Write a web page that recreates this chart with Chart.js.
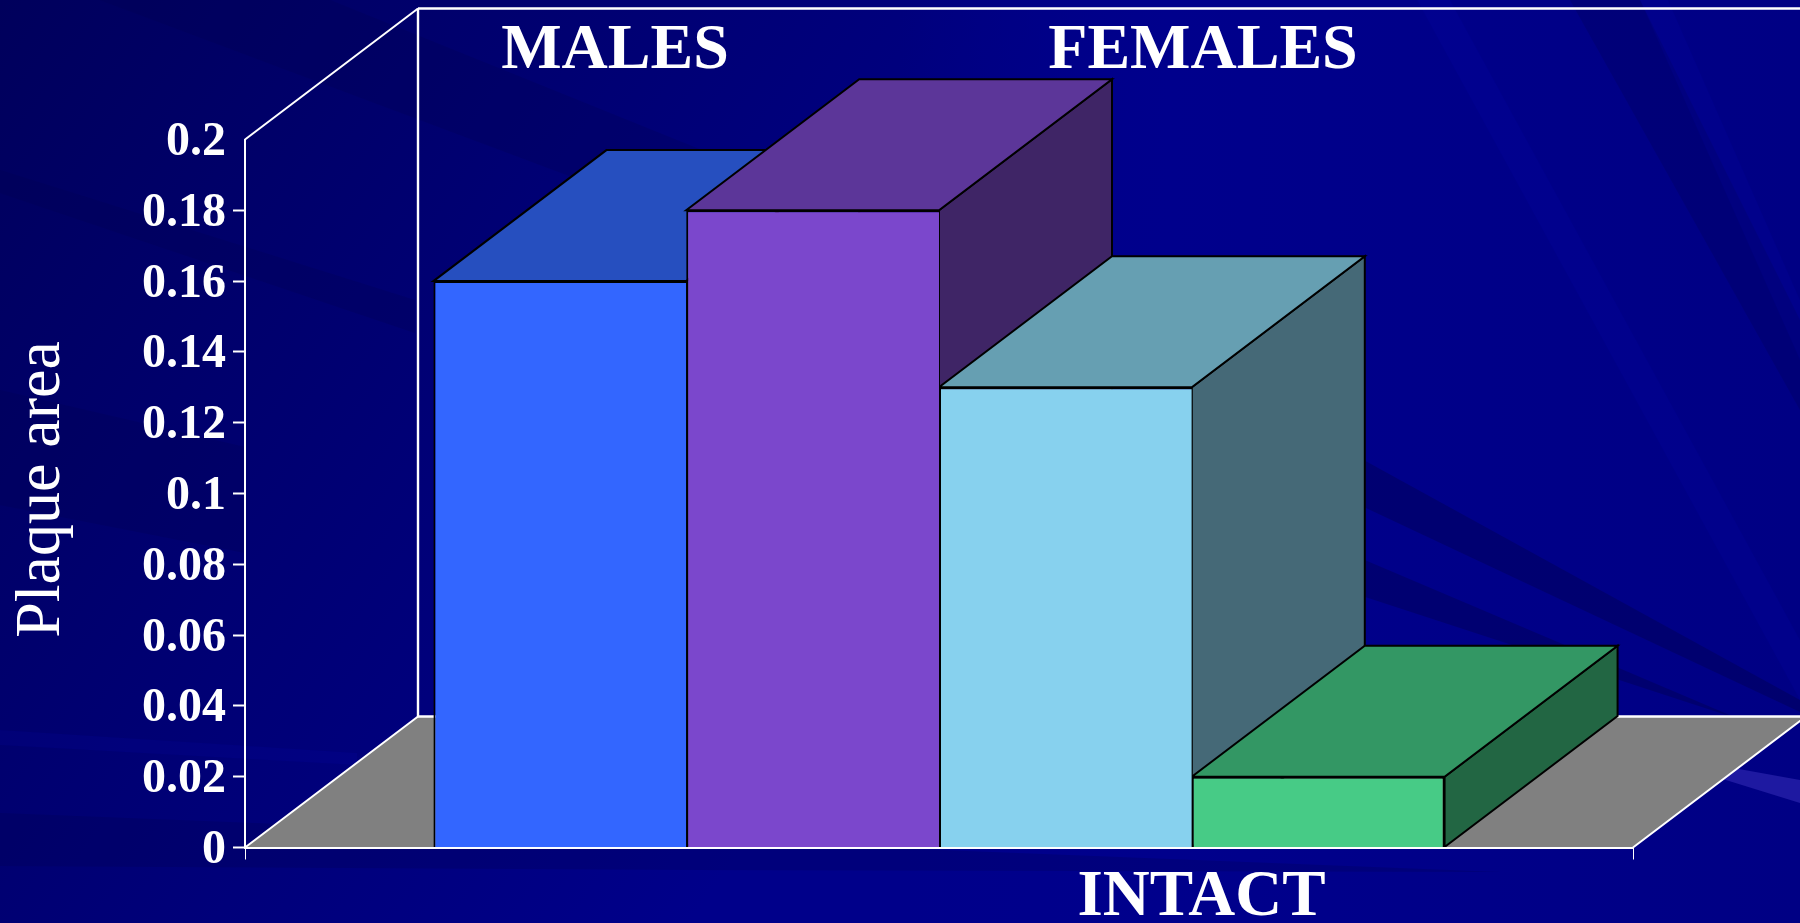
<!DOCTYPE html>
<html>
<head>
<meta charset="utf-8">
<style>
  html, body { margin: 0; padding: 0; background: #000088; overflow: hidden; }
  #wrap { position: relative; width: 1800px; height: 923px; }
</style>
<script src="https://cdn.jsdelivr.net/npm/chart.js@4"></script>
</head>
<body>
<div id="wrap"><canvas id="plaque" width="1800" height="923"></canvas></div>
<script>
const categories = ['INTACT'];
const seriesNames = ['Males A', 'Males B', 'Females A', 'Females B'];
const plaqueArea = [0.16, 0.18, 0.13, 0.02];
const frontColors = ['#3366ff', '#7b47cc', '#87d1ee', '#47cb86'];
const topColors = ['#264fbf', '#5c3699', '#669fb2', '#339764'];
const sideColors = ['#1a3380', '#3f2566', '#456977', '#226643'];
const groupLabels = ['MALES', 'FEMALES'];
const axisTitle = 'Plaque area';

const SERIF = '"Liberation Serif", "Times New Roman", serif';
const DEPTH_X = 173;
const DEPTH_Y = 131;

function polygon(ctx, pts, fill, stroke, lineWidth) {
  ctx.beginPath();
  pts.forEach((p, i) => i ? ctx.lineTo(p[0], p[1]) : ctx.moveTo(p[0], p[1]));
  ctx.closePath();
  if (fill) { ctx.fillStyle = fill; ctx.fill(); }
  if (stroke) { ctx.strokeStyle = stroke; ctx.lineWidth = lineWidth; ctx.lineJoin = 'miter'; ctx.stroke(); }
}

// Slide backdrop: navy gradient with faint diagonal streaks.
const backdrop = {
  id: 'backdrop',
  beforeDraw(chart) {
    const { ctx, width, height } = chart;
    ctx.save();
    const g = ctx.createLinearGradient(0, 0, 900, 620);
    g.addColorStop(0, '#00005c');
    g.addColorStop(0.55, '#000076');
    g.addColorStop(1, '#00008a');
    ctx.fillStyle = g;
    ctx.fillRect(0, 0, width, height);

    const right = ctx.createLinearGradient(900, 0, 1800, 0);
    right.addColorStop(0, 'rgba(0,0,140,0)');
    right.addColorStop(0.3, 'rgba(0,0,140,1)');
    right.addColorStop(1, 'rgba(0,0,132,1)');
    ctx.fillStyle = right;
    ctx.fillRect(900, 0, 900, height);

    const dark = 'rgba(0,0,80,0.42)';
    const faint = 'rgba(0,0,80,0.25)';
    const light = 'rgba(10,10,190,0.12)';
    [
      [[1200, 370], [1800, 700], [1800, 712], [1200, 430]],
      [[1200, 490], [1760, 728], [1760, 726], [1200, 543]]
    ].forEach(p => polygon(ctx, p, dark));
    [
      [[0, 170], [0, 193], [415, 333], [415, 300]],
      [[0, 390], [0, 505], [245, 553], [245, 447]],
      [[0, 813], [0, 866], [700, 870], [1500, 872]],
      [[1570, 0], [1640, 0], [1800, 320], [1800, 410]],
      [[100, 0], [330, 0], [900, 230], [900, 300]]
    ].forEach(p => polygon(ctx, p, faint));
    [
      [[0, 730], [0, 745], [357, 765], [357, 753]],
      [[1417, 0], [1450, 0], [1800, 640], [1800, 700]],
      [[1640, 0], [1668, 0], [1800, 300], [1800, 360]]
    ].forEach(p => polygon(ctx, p, light));
    polygon(ctx, [[1700, 762], [1800, 780], [1800, 803], [1700, 772]], 'rgba(60,50,190,0.5)');
    ctx.restore();
  }
};

// Floor, back wall, and the top and side faces of every bar.
const box3d = {
  id: 'box3d',
  beforeDatasetsDraw(chart) {
    const { ctx, chartArea: a } = chart;
    const { left, right, top, bottom } = a;
    ctx.save();
    polygon(ctx, [[left, bottom], [right, bottom], [right + DEPTH_X, bottom - DEPTH_Y], [left + DEPTH_X, bottom - DEPTH_Y]], '#808080');
    ctx.strokeStyle = '#ffffff';
    ctx.lineWidth = 2.4;
    ctx.beginPath();
    ctx.moveTo(left + DEPTH_X, top - DEPTH_Y);
    ctx.lineTo(1800, top - DEPTH_Y);
    ctx.moveTo(left + DEPTH_X, top - DEPTH_Y);
    ctx.lineTo(left + DEPTH_X, bottom - DEPTH_Y);
    ctx.lineTo(1800, bottom - DEPTH_Y);
    ctx.stroke();
    ctx.lineWidth = 2;
    ctx.beginPath();
    ctx.moveTo(left, top);
    ctx.lineTo(left + DEPTH_X, top - DEPTH_Y);
    ctx.moveTo(left, bottom);
    ctx.lineTo(left + DEPTH_X, bottom - DEPTH_Y);
    ctx.moveTo(right, bottom);
    ctx.lineTo(right + DEPTH_X, bottom - DEPTH_Y);
    ctx.stroke();

    plaqueArea.forEach((_, i) => {
      const bar = chart.getDatasetMeta(i).data[0];
      const l = bar.x - bar.width / 2, r = bar.x + bar.width / 2, t = bar.y, b = bar.base;
      polygon(ctx, [[r, t], [r + DEPTH_X, t - DEPTH_Y], [r + DEPTH_X, b - DEPTH_Y], [r, b]], sideColors[i], '#000000', 2);
      polygon(ctx, [[l, t], [r, t], [r + DEPTH_X, t - DEPTH_Y], [l + DEPTH_X, t - DEPTH_Y]], topColors[i], '#000000', 2);
    });
    ctx.restore();
  }
};

// Group captions above the bars and the rotated value-axis caption.
const captions = {
  id: 'captions',
  afterDraw(chart) {
    const { ctx } = chart;
    ctx.save();
    ctx.fillStyle = '#ffffff';
    ctx.font = 'bold 64px ' + SERIF;
    ctx.textAlign = 'center';
    ctx.textBaseline = 'alphabetic';
    ctx.fillText(groupLabels[0], 615, 68);
    ctx.fillText(groupLabels[1], 1203, 68);
    ctx.font = '64px ' + SERIF;
    ctx.translate(59, 489.5);
    ctx.rotate(-Math.PI / 2);
    ctx.fillText(axisTitle, 0, 0);
    ctx.restore();
  }
};

new Chart(document.getElementById('plaque'), {
  type: 'bar',
  data: {
    labels: categories,
    datasets: plaqueArea.map((v, i) => ({
      label: seriesNames[i],
      data: [v],
      backgroundColor: frontColors[i],
      borderColor: '#000000',
      // Neighbouring bars share one edge, so only the last bar closes its right side.
      borderWidth: { top: 2, left: 2, bottom: 0, right: i === plaqueArea.length - 1 ? 2 : 0 },
      categoryPercentage: 0.7285,
      barPercentage: 1
    }))
  },
  plugins: [backdrop, box3d, captions],
  options: {
    responsive: false,
    animation: false,
    layout: { padding: { left: 0, top: 139.5, right: 167, bottom: 0 } },
    plugins: { legend: { display: false }, title: { display: false }, tooltip: { enabled: false } },
    scales: {
      x: {
        afterFit(scale) { scale.height = 75.5; },
        border: { color: '#ffffff', width: 2, z: 1 },
        grid: { drawOnChartArea: false, drawTicks: true, tickLength: 12, tickColor: '#ffffff', tickWidth: 1, z: 1 },
        ticks: { color: '#ffffff', font: { family: SERIF, size: 65, weight: 'bold' }, labelOffset: 262.5, padding: 0, maxRotation: 0 }
      },
      y: {
        min: 0,
        max: 0.2,
        afterFit(scale) { scale.width = 245; },
        border: { color: '#ffffff', width: 2 },
        grid: {
          drawOnChartArea: false,
          drawTicks: true,
          tickLength: 12,
          tickWidth: 2,
          tickColor: ctx => ctx.tick && ctx.tick.value >= 0.2 ? 'rgba(0,0,0,0)' : '#ffffff'
        },
        ticks: {
          color: '#ffffff',
          stepSize: 0.02,
          padding: 7,
          labelOffset: 3,
          font: { family: SERIF, size: 48, weight: 'bold' },
          callback: v => String(Math.round(v * 100) / 100)
        }
      }
    }
  }
});
</script>
</body>
</html>
